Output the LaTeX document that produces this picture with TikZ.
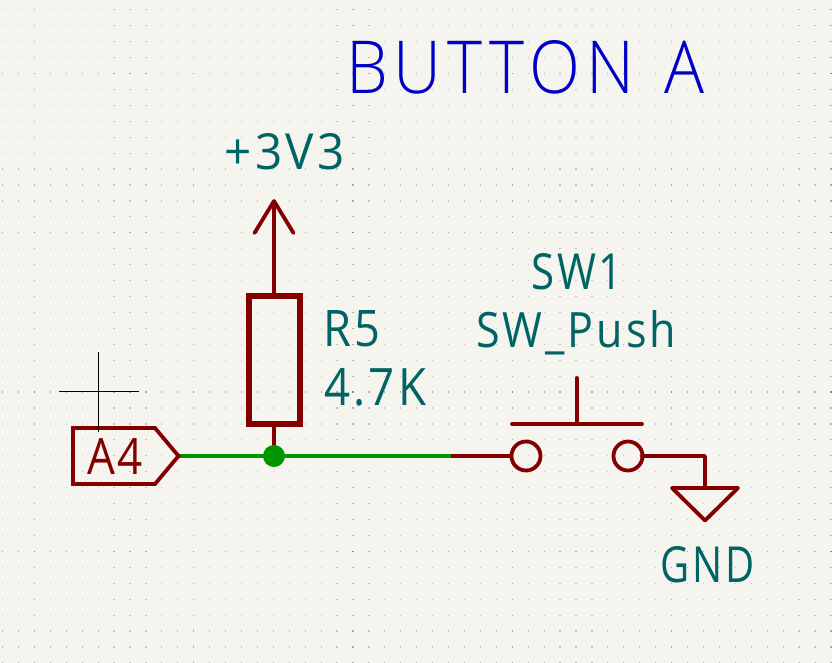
\documentclass[tikz,border=0pt]{standalone}
\usepackage{fontspec}
\usepackage{graphicx}
\setmainfont{Open Sans}[LetterSpace=7]
\newfontfamily\titlefont{Open Sans Light}[LetterSpace=9]
\definecolor{bgc}{HTML}{F5F4EF}
\definecolor{sym}{HTML}{840000}
\definecolor{wirec}{HTML}{009600}
\definecolor{teal}{HTML}{006464}
\definecolor{titlec}{HTML}{0000C8}
\newcommand{\fit}[3]{\resizebox{#1pt}{#2pt}{#3}}
\tikzset{
  x=1pt,y=-1pt,
  symline/.style={draw=sym,line width=3.8pt,line cap=round,line join=round},
  wire/.style={draw=wirec,line width=4pt},
  lab/.style={inner sep=0pt,outer sep=0pt,anchor=base west,text=teal},
}
\begin{document}
\begin{tikzpicture}
\useasboundingbox (0,0) rectangle (832,663);
\fill[bgc] (0,0) rectangle (832,663);
% grid
\foreach \i in {0,...,52}{
 \foreach \j in {0,...,41}{
  \pgfmathsetmacro{\px}{2.54+15.93*\i}
  \pgfmathsetmacro{\py}{9.77+15.93*\j}
  \pgfmathtruncatemacro{\mi}{mod(\i,10)==2}
  \pgfmathtruncatemacro{\mj}{mod(\j,10)==4}
  \pgfmathtruncatemacro{\lv}{\mi+\mj}
  \ifcase\lv\relax \def\dotc{black!20!bgc}\or \def\dotc{black!30!bgc}\else \def\dotc{black!42!bgc}\fi
  \fill[\dotc] (\px-0.6,\py-0.6) rectangle (\px+0.6,\py+0.6);
 }
}
% coordinates
\coordinate (labtip) at (178.5,456);
\coordinate (junc) at (274,456);
\coordinate (wireend) at (451,456);
\coordinate (pinL) at (512,456);
\coordinate (pinR) at (642,456);
\coordinate (corner) at (705,456);
\coordinate (gndtop) at (705,488);
\coordinate (gndL) at (672,488);
\coordinate (gndR) at (738,488);
\coordinate (gndA) at (705,520.5);
\coordinate (vcctip) at (274,201);
\coordinate (vccL) at (254.5,233);
\coordinate (vccR) at (293.5,233);
\coordinate (btnL) at (512,424);
\coordinate (btnR) at (642,424);
\coordinate (btnM) at (577,424);
\coordinate (btnT) at (577,378);
% resistor
\node[draw=sym,line width=6pt,minimum width=50.4pt,minimum height=127.7pt,inner sep=0pt,outer sep=0pt,anchor=center] (R5) at (274.5,360.2) {};
\draw[symline,line cap=butt] (R5.south -| junc) -- (junc);
\draw[symline,line cap=butt] (R5.north -| junc) -- (vcctip);
\draw[symline] (vccL) -- (vcctip) -- (vccR);
% wires
\draw[wire] (labtip) -- (wireend);
\draw[symline,line cap=butt] (wireend) -- (pinL);
\draw[symline] (pinR) -- (corner) -- (gndtop);
\node[fill=wirec,circle,minimum size=22pt,inner sep=0pt,outer sep=0pt] (J) at (junc) {};
% switch
\node[draw=sym,line width=3.8pt,circle,minimum size=29pt,inner sep=0pt,outer sep=0pt] (P1) at (526,456) {};
\node[draw=sym,line width=3.8pt,circle,minimum size=29pt,inner sep=0pt,outer sep=0pt] (P2) at (628,456) {};
\draw[symline] (btnL) -- (btnR);
\draw[symline] (btnM) -- (btnT);
% gnd
\draw[symline] (gndL) -- (gndR) -- (gndA) -- cycle;
% global label
\draw[symline,line join=miter] (73,428) -- (155,428) -- (178.5,456) -- (155,484) -- (73,484) -- cycle;
\node[lab,text=sym] (A4) at (87,474.3) {\fit{56}{36}{A4}};
% texts
\node[lab,text=titlec] (title) at (346,93.3) {\fit{358}{53}{\titlefont BUTTON\hspace{0.45em}A}};
\node[lab] (vcc) at (224.5,170) {\fit{120}{36}{+3V3}};
\node[lab] (r5) at (323.5,346.7) {\fit{57}{36}{R5}};
\node[lab] (val) at (324,405) {\fit{102}{37}{4.7K}};
\node[lab] (sw1) at (531,289.5) {\fit{92}{36}{SW1}};
\node[lab] (swp) at (476,347.5) {\fit{200}{37}{SW\_Push}};
\node[lab] (gnd) at (660.5,582.7) {\fit{94}{36}{GND}};
% anchor cross
\coordinate (crL) at (59,391.3);
\coordinate (crR) at (139,391.3);
\coordinate (crT) at (98.3,352.3);
\coordinate (crB) at (98.3,431.7);
\draw[black,line width=1pt] (crL) -- (crR);
\draw[black,line width=1pt] (crT) -- (crB);
\end{tikzpicture}
\end{document}
